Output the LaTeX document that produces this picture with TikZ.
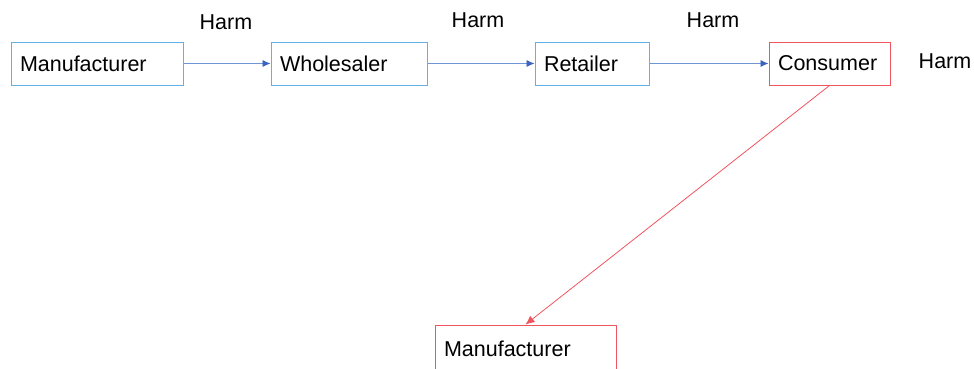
\documentclass[tikz,border=0pt]{standalone}
\usepackage{fontspec}
\setmainfont{Liberation Sans}
\usetikzlibrary{arrows.meta}
\definecolor{boxblue}{RGB}{100,178,228}
\definecolor{lineblue}{RGB}{110,150,215}
\definecolor{tipblue}{RGB}{60,100,190}
\definecolor{boxred}{RGB}{240,85,95}
\begin{document}
\begin{tikzpicture}[x=1pt,y=-1pt,
	party/.style={draw,line width=1pt,minimum height=43pt,inner xsep=9pt,align=left,font=\fontsize{21.5}{25}\selectfont},
	harm/.style={font=\fontsize{21.5}{25}\selectfont,inner sep=0pt}]
			\useasboundingbox (0,0) rectangle (974,368);
			\node[party,draw=boxblue,text width=154pt] (m) at (97,63.5) {Manufacturer};
			\node[party,draw=boxblue,text width=138pt] (w) at (349,63.5) {Wholesaler};
			\node[party,draw=boxblue,text width=96pt] (r) at (592,63.5) {Retailer};
			\node[party,draw=boxred,text width=103pt] (c) at (829.5,63.5) {Consumer};
			\node[party,draw=boxred,text width=163pt,minimum height=48pt] (m2) at (525.5,349) {Manufacturer};
			\node[harm] (h1) at (226,22) {Harm};
			\node[harm] (h2) at (478,20) {Harm};
			\node[harm] (h3) at (713,20) {Harm};
			\node[harm] (h4) at (945,61) {Harm};
			\draw[-{Latex[length=8pt,width=7pt,color=tipblue]},line width=0.8pt,draw=lineblue](m)--(w);
			\draw[-{Latex[length=8pt,width=7pt,color=tipblue]},line width=0.8pt,draw=lineblue](w)--(r);
			\draw[-{Latex[length=8pt,width=7pt,color=tipblue]},line width=0.8pt,draw=lineblue](r)--(c);
			\draw[-{Latex[length=9pt,width=8pt]},line width=0.8pt,draw=boxred](c.south)--(m2.north);
		\end{tikzpicture}
\end{document}
